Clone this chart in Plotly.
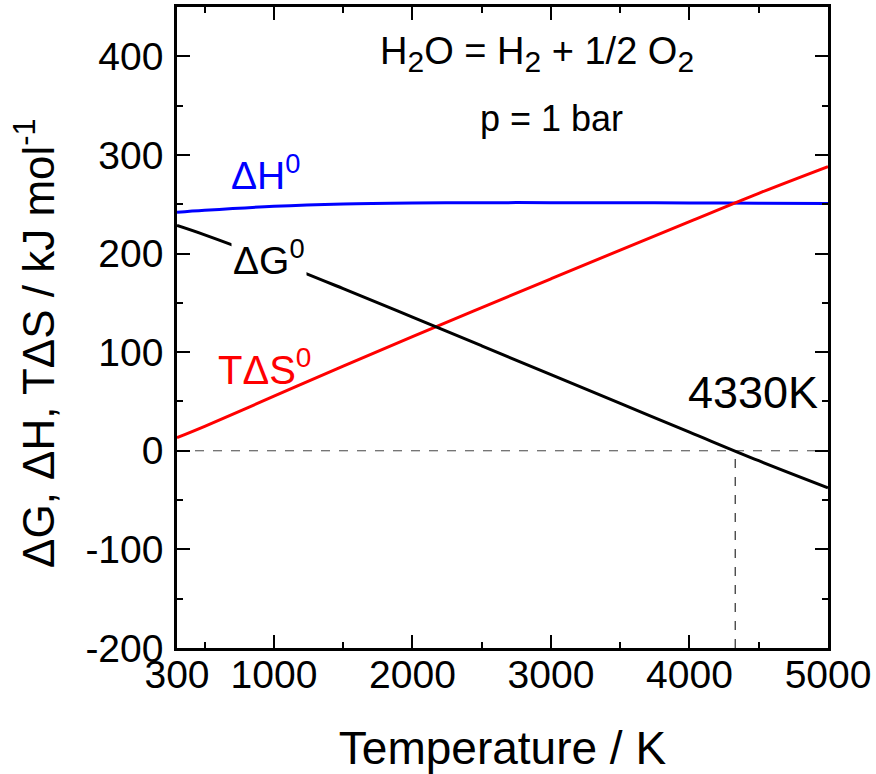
import plotly.graph_objects as go

T = [300, 500, 1000, 1500, 2000, 2500, 3000, 3500, 4000, 4500, 5000]
dH = [241.8, 243.8, 247.9, 250.3, 251.3, 251.6, 251.6, 251.5, 251.3, 251.0, 250.7]
dG = [228.5, 219.0, 192.6, 164.4, 135.5, 106.4, 77.2, 48.0, 18.9, -10.1, -37.5]
TdS = [13.3, 24.8, 55.3, 85.9, 115.8, 145.2, 174.4, 203.5, 232.4, 261.1, 288.2]

T_eq = 4330
zero_x = [300, 5000]
zero_y = [0, 0]
eq_y = [-200, 0]

x_ticks = [300, 1000, 2000, 3000, 4000, 5000]
x_ticktext = ["300", "1000", "2000", "3000", "4000", "5000"]
y_ticks = [-200, -100, 0, 100, 200, 300, 400]
y_ticktext = ["-200", "-100", "0", "100", "200", "300", "400"]

FONT = "Arial, Liberation Sans, sans-serif"

fig = go.Figure()
fig.add_trace(go.Scatter(x=zero_x, y=zero_y, mode="lines",
                         line=dict(color="#444444", width=1, dash="dash"), showlegend=False))
fig.add_trace(go.Scatter(x=[T_eq, T_eq], y=eq_y, mode="lines",
                         line=dict(color="black", width=1, dash="dash"), showlegend=False))
fig.add_trace(go.Scatter(x=T, y=dH, mode="lines", line=dict(color="#0000ff", width=3, shape="spline"), showlegend=False))
fig.add_trace(go.Scatter(x=T, y=TdS, mode="lines", line=dict(color="#ff0000", width=3, shape="spline"), showlegend=False))
fig.add_trace(go.Scatter(x=T, y=dG, mode="lines", line=dict(color="black", width=3, shape="spline"), showlegend=False))

sub = "<sub><span style='font-size:30px'>2</span></sub>"
anns = [
    dict(x=936, y=282, text="ΔH<sup>0</sup>", font=dict(color="#0000ff", size=39)),
    dict(x=962, y=196, text="ΔG<sup>0</sup>", font=dict(color="black", size=39), bgcolor="white"),
    dict(x=935, y=85, text="TΔS<sup>0</sup>", font=dict(color="#ff0000", size=40)),
    dict(x=4460, y=59, text="4330K", font=dict(color="black", size=45)),
    dict(x=2898, y=402, text="H" + sub + "O = H" + sub + " + 1/2 O" + sub, font=dict(color="black", size=38)),
    dict(x=3007, y=337, text="p = 1 bar", font=dict(color="black", size=36)),
]
for a in anns:
    a.update(xref="x", yref="y", showarrow=False, xanchor="center", yanchor="middle")
    a["font"]["family"] = FONT
    fig.add_annotation(**a)

# y-axis title drawn as a rotated annotation for exact placement
fig.add_annotation(text="ΔG, ΔH, TΔS / kJ mol<sup>-1</sup>", textangle=-90,
                   xref="paper", yref="paper", x=-0.218, y=0.476,
                   xanchor="center", yanchor="middle", showarrow=False,
                   font=dict(family=FONT, size=44, color="black"))

axis_common = dict(
    showline=True, linecolor="black", linewidth=2.5, mirror="allticks",
    ticks="inside", ticklen=13, tickwidth=2, tickcolor="black",
    showgrid=False, zeroline=False, automargin=False,
    tickfont=dict(family=FONT, size=39, color="black"),
)

fig.update_xaxes(range=[300, 5000], tickmode="array", tickvals=x_ticks, ticktext=x_ticktext,
                 minor=dict(ticks="inside", ticklen=6, tickwidth=1.5, tickcolor="black",
                            tickvals=[500, 1500, 2500, 3500, 4500]),
                 title=dict(text="Temperature / K", font=dict(family=FONT, size=46, color="black"), standoff=39),
                 ticklabelstandoff=-10,
                 **axis_common)
fig.update_yaxes(range=[-200, 450], tickmode="array", tickvals=y_ticks, ticktext=y_ticktext,
                 minor=dict(ticks="inside", ticklen=6, tickwidth=1.5, tickcolor="black",
                            tickvals=[-150, -50, 50, 150, 250, 350]),
                 ticklabelstandoff=3,
                 **axis_common)

fig.update_layout(width=876, height=774, margin=dict(l=177, r=48, t=7, b=126),
                  plot_bgcolor="white", paper_bgcolor="white", showlegend=False,
                  font=dict(family=FONT))
fig.write_html("out.html", config={"displayModeBar": False},
               post_script="document.body.style.margin='0';document.body.style.overflow='hidden';")
